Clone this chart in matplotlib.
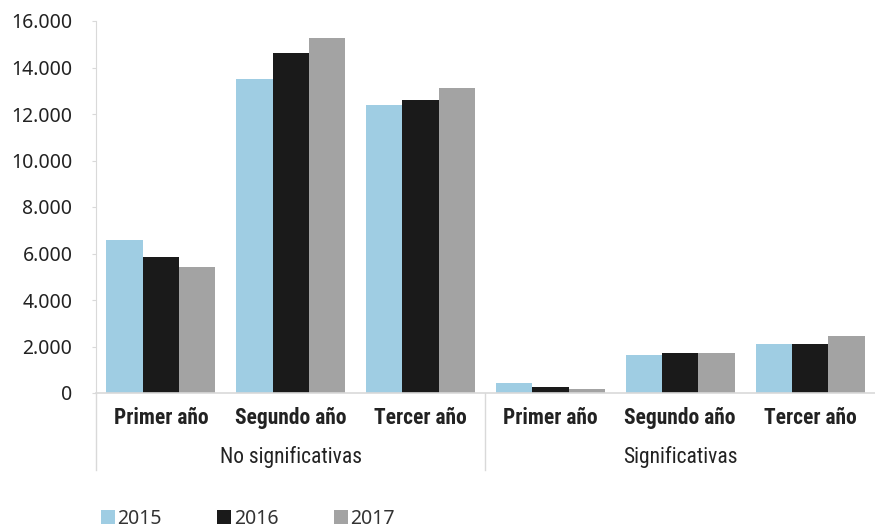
import numpy as np
import matplotlib
matplotlib.use("Agg")
import matplotlib.pyplot as plt
from matplotlib.ticker import FuncFormatter

# Data
groups = ["No significativas", "Significativas"]
categories = ["Primer año", "Segundo año", "Tercer año",
              "Primer año", "Segundo año", "Tercer año"]
years = ["2015", "2016", "2017"]
v2015 = [6600, 13500, 12390, 440, 1630, 2090]
v2016 = [5850, 14620, 12600, 260, 1720, 2090]
v2017 = [5400, 15270, 13120, 170, 1720, 2460]
colors = ["#9FCDE3", "#1A1A1A", "#A3A3A3"]

narrow = ["Roboto Condensed", "Lato", "DejaVu Sans"]
text_col = "#222222"
grid_col = "#D9D9D9"

fig = plt.figure(figsize=(8.75, 5.27), dpi=100)
ax = fig.add_axes([96 / 875, 134 / 527, 779 / 875, 372 / 527])

x = np.arange(len(categories))
w = 0.28
bars = []
for i, (vals, c) in enumerate(zip([v2015, v2016, v2017], colors)):
    b = ax.bar(x + (i - 1) * w, vals, width=w, color=c, label=years[i], zorder=2)
    bars.append(b)

ax.set_xlim(-0.5, len(categories) - 0.5)
ax.set_ylim(0, 16000)
ax.set_yticks(np.arange(0, 16001, 2000))
ax.yaxis.set_major_formatter(FuncFormatter(lambda v, p: f"{int(v):,}".replace(",", ".")))
ax.tick_params(axis="y", length=3, color=grid_col, pad=14, labelsize=14,
               labelcolor=text_col)
for lab in ax.get_yticklabels():
    lab.set_fontfamily("Noto Sans")
ax.set_xticks([])

for s in ["top", "right"]:
    ax.spines[s].set_visible(False)
ax.spines["left"].set_color(grid_col)
ax.spines["bottom"].set_color(grid_col)
ax.spines["bottom"].set_linewidth(1.2)

# category labels and group labels below the axis
trans = ax.get_xaxis_transform()
px = 1 / 372  # one pixel in axes-height units
for xi, cat in zip(x, categories):
    ax.text(xi, -25 * px, cat, transform=trans, ha="center", va="center",
            fontsize=15.5, fontweight="bold", family=narrow, color=text_col)
for gi, g in enumerate(groups):
    ax.text(gi * 3 + 1, -64 * px, g, transform=trans, ha="center", va="center",
            fontsize=15.5, family=narrow, color=text_col)

# separator lines between the groups
for xs in [-0.5, 2.5]:
    ax.plot([xs, xs], [0, -77 * px], transform=trans, color=grid_col,
            lw=1, clip_on=False)

leg = fig.legend(handles=bars, labels=years, loc="center left",
                 bbox_to_anchor=(101 / 875, 8.5 / 527), ncol=3, frameon=False,
                 borderpad=0, borderaxespad=0, handlelength=0.72,
                 handleheight=0.72, handletextpad=0.13, columnspacing=2.85,
                 prop={"family": "Noto Sans", "size": 14})
for t in leg.get_texts():
    t.set_color("#333333")

fig.savefig("out.png", dpi=100)
